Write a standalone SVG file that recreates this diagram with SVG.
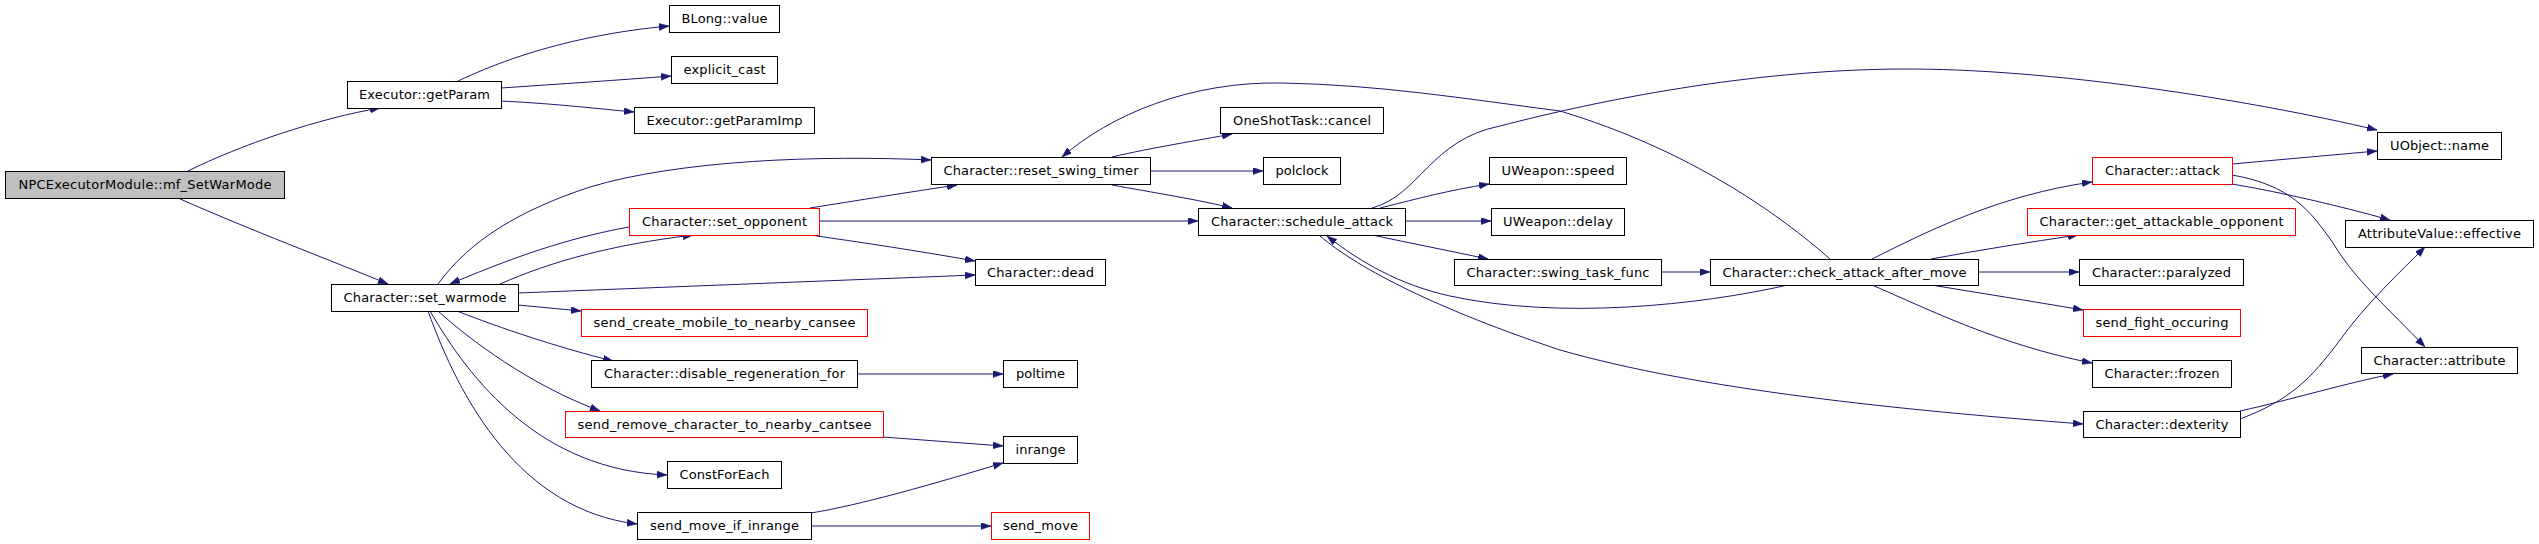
<svg xmlns="http://www.w3.org/2000/svg" width="2539" height="544" viewBox="0 0 2539 544">
<style>
.n rect{fill:#ffffff;stroke:#000000;stroke-width:1}
.n.red rect{stroke:#ff0000}
.n.root rect{fill:#bfbfbf}
.n text{font-family:"DejaVu Sans","Liberation Sans",sans-serif;font-size:13px;fill:#000000;text-anchor:middle}
#edges path{fill:none;stroke:#191970;stroke-width:1;marker-end:url(#ah)}
</style>
<defs>
<marker id="ah" markerUnits="userSpaceOnUse" markerWidth="11" markerHeight="8" refX="10" refY="3.5" orient="auto">
<path d="M0,0 L10,3.5 L0,7 z" fill="#191970" stroke="#191970" stroke-width="0.5"/>
</marker>
</defs>
<rect width="2539" height="544" fill="#ffffff"/>
<g id="edges">
<path d="M188,171 C240,145 320,118 380,108"/>
<path d="M178,198 C250,230 330,260 388,284"/>
<path d="M458,81 C490,66 560,36 669,26"/>
<path d="M501,88 C560,84 620,80 671,76"/>
<path d="M501,101 C560,104 600,109 634,112"/>
<path d="M438,284 C470,240 520,210 590,187 C680,160 820,155 931,160"/>
<path d="M629,227 C580,236 530,250 450,284"/>
<path d="M500,284 C550,262 610,245 693,235"/>
<path d="M518,293 L975,275"/>
<path d="M518,305 L581,311"/>
<path d="M457,311 C500,328 560,348 613,361"/>
<path d="M438,311 C470,340 530,385 600,411"/>
<path d="M430,311 C470,380 540,470 667,475"/>
<path d="M428,311 C460,400 520,510 637,524"/>
<path d="M810,208 C860,200 910,192 957,185"/>
<path d="M819,221 L1198,221"/>
<path d="M810,235 C880,245 930,253 975,261"/>
<path d="M883,437 L1003,446"/>
<path d="M811,513 C860,505 930,485 1003,463"/>
<path d="M811,526 L991,526"/>
<path d="M857,374 L1003,374"/>
<path d="M1112,157 C1150,148 1200,140 1232,134"/>
<path d="M1150,171 L1263,171"/>
<path d="M1112,185 C1150,192 1200,200 1232,208"/>
<path d="M1830,259 C1780,215 1690,150 1560,111 C1460,98 1380,85 1283,83 C1190,81 1110,115 1062,157"/>
<path d="M1372,208 C1420,195 1430,140 1500,126 C1600,100 1750,70 1900,69 C2050,68 2250,100 2377,130"/>
<path d="M1380,208 C1420,198 1450,190 1489,184"/>
<path d="M1405,221 L1491,221"/>
<path d="M1372,235 C1410,243 1450,251 1488,259"/>
<path d="M1788,285 C1700,305 1560,320 1450,296 C1400,285 1360,262 1327,236"/>
<path d="M1320,236 C1360,270 1440,310 1560,350 C1700,390 1900,410 2083,424"/>
<path d="M1661,272 L1710,272"/>
<path d="M1872,259 C1930,230 2000,195 2092,182"/>
<path d="M1931,259 C1980,250 2030,242 2078,235"/>
<path d="M1978,272 L2079,272"/>
<path d="M1931,285 C1980,293 2030,301 2083,310"/>
<path d="M1872,285 C1930,310 2000,345 2092,363"/>
<path d="M2232,164 L2377,151"/>
<path d="M2232,184 C2280,192 2340,206 2390,220"/>
<path d="M2232,175 C2290,185 2310,210 2333,243 C2355,280 2390,310 2425,347"/>
<path d="M2240,419 C2290,400 2310,380 2340,340 C2365,305 2400,272 2425,247"/>
<path d="M2240,411 C2290,400 2350,382 2393,374"/>
</g>
<g id="n1" class="n root"><rect x="5.5" y="171.5" width="279" height="27"/><text x="145" y="189" textLength="253">NPCExecutorModule::mf_SetWarMode</text></g>
<g id="n2" class="n"><rect x="347.5" y="81.5" width="154" height="27"/><text x="424.5" y="99" textLength="131">Executor::getParam</text></g>
<g id="n3" class="n"><rect x="331.5" y="284.5" width="187" height="27"/><text x="425" y="302" textLength="163">Character::set_warmode</text></g>
<g id="n4" class="n"><rect x="669.5" y="5.5" width="110" height="27"/><text x="724.5" y="23" textLength="86">BLong::value</text></g>
<g id="n5" class="n"><rect x="671.5" y="56.5" width="106" height="27"/><text x="724.5" y="74" textLength="82">explicit_cast</text></g>
<g id="n6" class="n"><rect x="634.5" y="107.5" width="180" height="26"/><text x="724.5" y="125" textLength="156">Executor::getParamImp</text></g>
<g id="n7" class="n red"><rect x="629.5" y="208.5" width="190" height="27"/><text x="724.5" y="226" textLength="165">Character::set_opponent</text></g>
<g id="n8" class="n red"><rect x="581.5" y="309.5" width="286" height="27"/><text x="724.5" y="327" textLength="262">send_create_mobile_to_nearby_cansee</text></g>
<g id="n9" class="n"><rect x="591.5" y="360.5" width="266" height="27"/><text x="724.5" y="378" textLength="241">Character::disable_regeneration_for</text></g>
<g id="n10" class="n red"><rect x="565.5" y="411.5" width="318" height="26"/><text x="724.5" y="429" textLength="294">send_remove_character_to_nearby_cantsee</text></g>
<g id="n11" class="n"><rect x="667.5" y="461.5" width="114" height="27"/><text x="724.5" y="479" textLength="90">ConstForEach</text></g>
<g id="n12" class="n"><rect x="637.5" y="512.5" width="174" height="27"/><text x="724.5" y="530" textLength="149">send_move_if_inrange</text></g>
<g id="n13" class="n"><rect x="931.5" y="157.5" width="219" height="27"/><text x="1041" y="175" textLength="195">Character::reset_swing_timer</text></g>
<g id="n14" class="n"><rect x="975.5" y="259.5" width="130" height="26"/><text x="1040.5" y="277" textLength="107">Character::dead</text></g>
<g id="n15" class="n"><rect x="1003.5" y="360.5" width="74" height="27"/><text x="1040.5" y="378" textLength="49">poltime</text></g>
<g id="n16" class="n"><rect x="1003.5" y="436.5" width="74" height="27"/><text x="1040.5" y="454" textLength="50">inrange</text></g>
<g id="n17" class="n red"><rect x="991.5" y="512.5" width="98" height="27"/><text x="1040.5" y="530" textLength="75">send_move</text></g>
<g id="n18" class="n"><rect x="1220.5" y="107.5" width="163" height="26"/><text x="1302" y="125" textLength="138">OneShotTask::cancel</text></g>
<g id="n19" class="n"><rect x="1263.5" y="157.5" width="77" height="27"/><text x="1302" y="175" textLength="53">polclock</text></g>
<g id="n20" class="n"><rect x="1198.5" y="208.5" width="207" height="27"/><text x="1302" y="226" textLength="182">Character::schedule_attack</text></g>
<g id="n21" class="n"><rect x="1489.5" y="157.5" width="137" height="27"/><text x="1558" y="175" textLength="113">UWeapon::speed</text></g>
<g id="n22" class="n"><rect x="1491.5" y="208.5" width="133" height="27"/><text x="1558" y="226" textLength="110">UWeapon::delay</text></g>
<g id="n23" class="n"><rect x="1454.5" y="259.5" width="207" height="26"/><text x="1558" y="277" textLength="183">Character::swing_task_func</text></g>
<g id="n24" class="n"><rect x="1710.5" y="259.5" width="268" height="26"/><text x="1844.5" y="277" textLength="244">Character::check_attack_after_move</text></g>
<g id="n25" class="n"><rect x="2377.5" y="132.5" width="124" height="27"/><text x="2439.5" y="150" textLength="99">UObject::name</text></g>
<g id="n26" class="n red"><rect x="2092.5" y="157.5" width="140" height="27"/><text x="2162.5" y="175" textLength="115">Character::attack</text></g>
<g id="n27" class="n red"><rect x="2027.5" y="208.5" width="268" height="27"/><text x="2161.5" y="226" textLength="244">Character::get_attackable_opponent</text></g>
<g id="n28" class="n"><rect x="2345.5" y="220.5" width="188" height="27"/><text x="2439.5" y="238" textLength="163">AttributeValue::effective</text></g>
<g id="n29" class="n"><rect x="2079.5" y="259.5" width="164" height="26"/><text x="2161.5" y="277" textLength="139">Character::paralyzed</text></g>
<g id="n30" class="n red"><rect x="2083.5" y="309.5" width="157" height="27"/><text x="2162" y="327" textLength="133">send_fight_occuring</text></g>
<g id="n31" class="n"><rect x="2092.5" y="360.5" width="139" height="27"/><text x="2162" y="378" textLength="115">Character::frozen</text></g>
<g id="n32" class="n"><rect x="2083.5" y="411.5" width="157" height="26"/><text x="2162" y="429" textLength="133">Character::dexterity</text></g>
<g id="n33" class="n"><rect x="2361.5" y="347.5" width="156" height="26"/><text x="2439.5" y="365" textLength="132">Character::attribute</text></g>
</svg>
